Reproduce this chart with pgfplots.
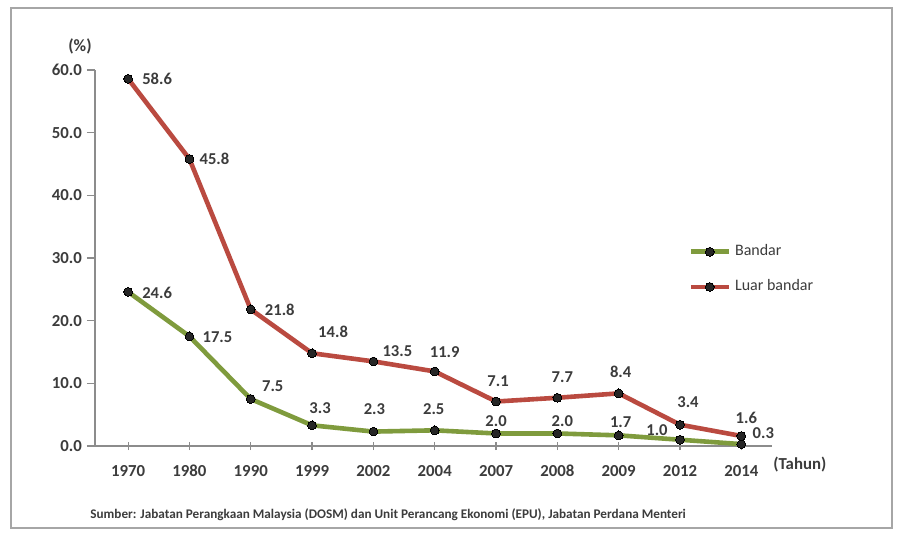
\documentclass[border=0pt]{standalone}
\usepackage{pgfplots}
\pgfplotsset{compat=1.18}
\usepackage{pgfplotstable}
\usepackage{fontspec}
\setmainfont{Carlito}
\definecolor{redl}{HTML}{BA4A40}
\definecolor{greenl}{HTML}{7F9B3D}
\definecolor{axgray}{HTML}{8C8C8C}
\definecolor{txt}{HTML}{3C3C3C}

\pgfplotstableread{
x y dx dy
0 58.6 29 0
1 45.8 25 0
2 21.8 29 0
3 14.8 21 21
4 13.5 24 10
5 11.9 10 19
6 7.1 2 20
7 7.7 5 21
8 8.4 2 22
9 3.4 8 23
10 1.6 5 18
}\luar

\pgfplotstableread{
x y dx dy
0 24.6 29 -1
1 17.5 28 -1
2 7.5 22 13
3 3.3 8 17
4 2.3 1 22
5 2.5 -1 21
6 2.0 0 12
7 2.0 5 12
8 1.7 2 13
9 1.0 -23 10
10 0.3 22 11
}\bandar

\begin{document}
\begin{tikzpicture}
\fill[white] (0pt,0pt) rectangle (450pt,266pt);
\draw[gray!70,line width=0.8pt] (5.5pt,2pt) rectangle (446pt,262pt);
\begin{axis}[
  at={(47.5pt,43pt)}, anchor=south west,
  scale only axis, width=338.5pt, height=188pt,
  xmin=-0.54, xmax=10.5, ymin=0, ymax=60,
  axis lines=left,
  axis line style={axgray, line width=0.6pt, -},
  xtick={0,...,10},
  xticklabels={1970,1980,1990,1999,2002,2004,2007,2008,2009,2012,2014},
  ytick={0,10,...,60},
  yticklabel={\pgfmathprintnumber[fixed,fixed zerofill,precision=1]{\tick}},
  /pgf/number format/assume math mode=true,
  ticklabel style={font=\fontsize{8.4}{10}\selectfont\bfseries, text=txt},
  x tick style={axgray, line width=0.6pt},
  y tick style={axgray, line width=0.6pt},
  xtick align=center, major tick length=4pt,
  ytick align=outside,
  xticklabel style={yshift=-4pt},
  yticklabel style={xshift=1pt},
  clip=false,
  nodes near coords,
  point meta=explicit symbolic,
  every node near coord/.style={font=\fontsize{8.3}{10}\selectfont\bfseries, text=txt, anchor=center, xshift=\dx*0.5pt, yshift=\dy*0.5pt},
  legend style={at={(0.876,0.547)}, anchor=north west, draw=none, fill=none,
    font=\fontsize{8}{10}\selectfont, text=txt, row sep=6.5pt,
    inner sep=0pt, cells={anchor=west}},
  legend image code/.code={\draw[#1,mark repeat=2,mark phase=2] plot coordinates {(0pt,0pt) (9.5pt,0pt) (19pt,0pt)};},
]
\addplot[greenl, line width=2.3pt, mark=*, mark size=2.2pt, mark options={black, fill=black!85, line width=0pt},
  visualization depends on={\thisrow{dx}\as\dx}, visualization depends on={\thisrow{dy}\as\dy}]
  table[x=x, y=y, meta=y] {\bandar};
\addlegendentry{Bandar}
\addplot[redl, line width=2.3pt, mark=*, mark size=2.2pt, mark options={black, fill=black!85, line width=0pt},
  visualization depends on={\thisrow{dx}\as\dx}, visualization depends on={\thisrow{dy}\as\dy}]
  table[x=x, y=y, meta=y] {\luar};
\addlegendentry{Luar bandar}
\end{axis}
\node[font=\fontsize{8.6}{11}\selectfont\bfseries, text=txt] at (40pt,243pt) {(\%)};
\node[font=\fontsize{8.4}{10}\selectfont\bfseries, text=txt, anchor=west, inner sep=0pt] at (386.5pt,33.5pt) {(Tahun)};
\node[font=\fontsize{6.6}{8}\selectfont\bfseries, text=txt, anchor=west, inner sep=0pt] at (45pt,8.5pt) {Sumber: Jabatan Perangkaan Malaysia (DOSM) dan Unit Perancang Ekonomi (EPU), Jabatan Perdana Menteri};
\end{tikzpicture}
\end{document}
